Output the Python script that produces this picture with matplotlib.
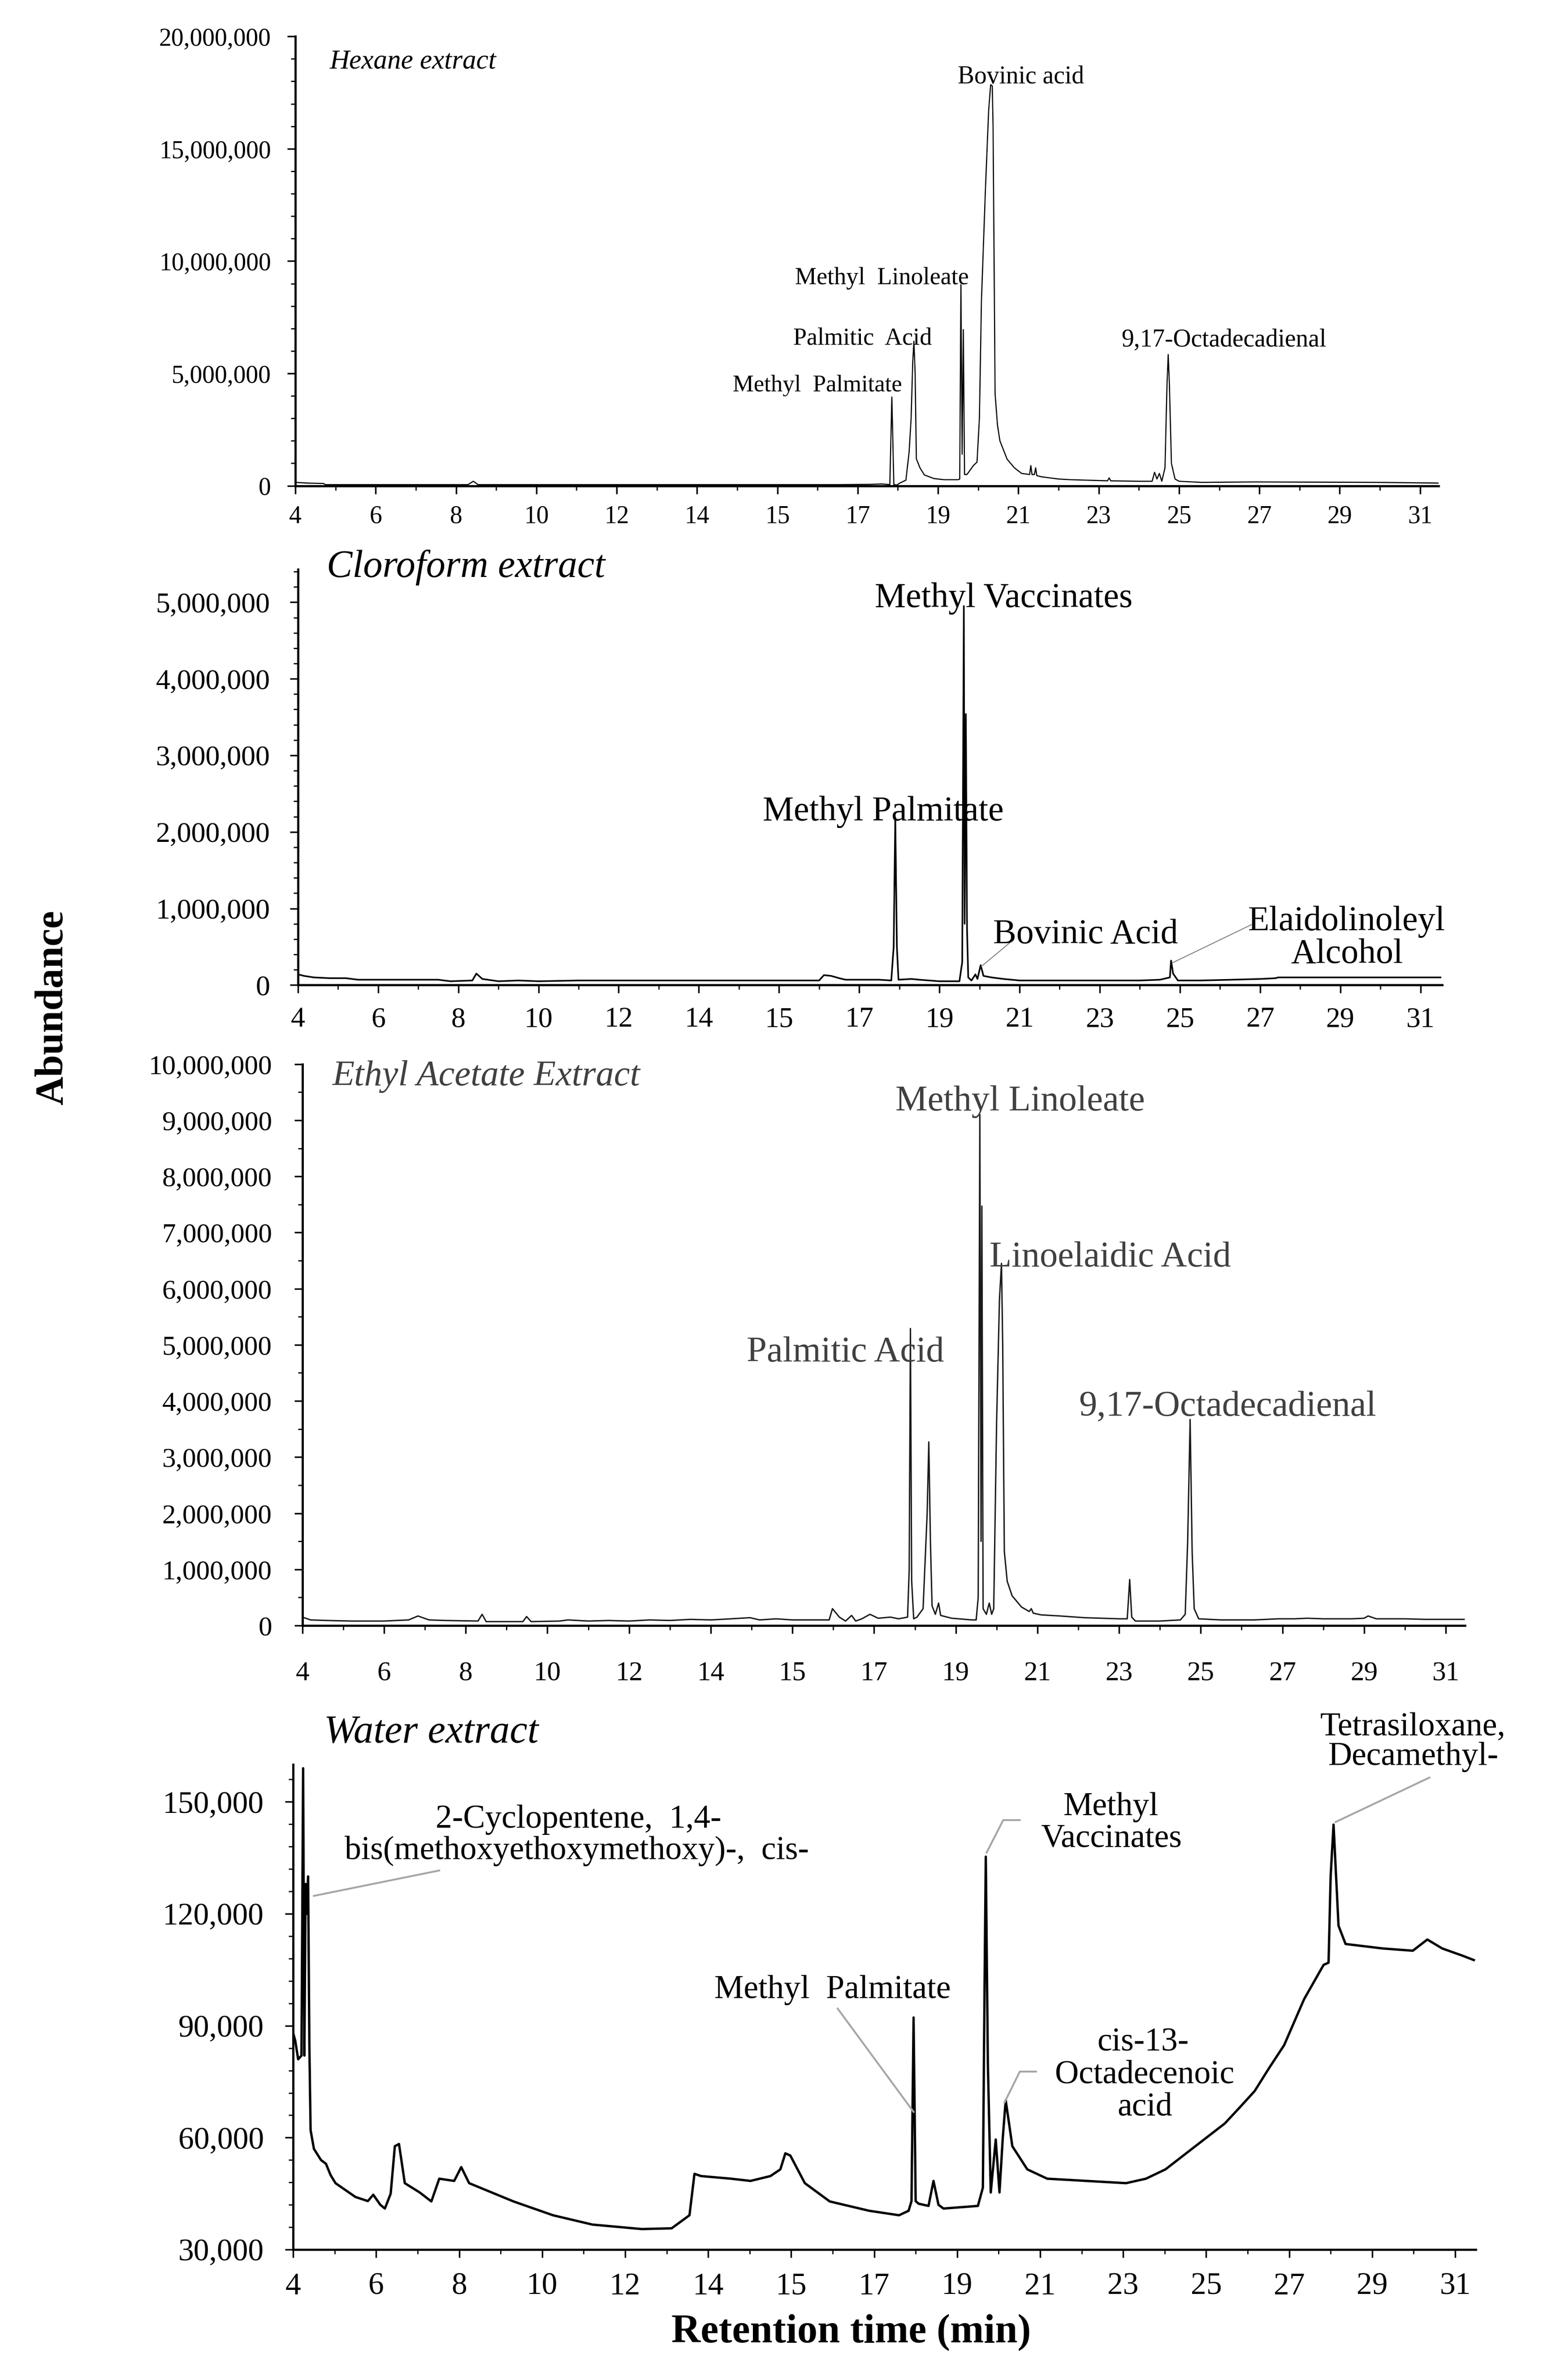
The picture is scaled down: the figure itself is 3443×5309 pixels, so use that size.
import numpy as np
import matplotlib
matplotlib.use("Agg")
import matplotlib.pyplot as plt
from matplotlib.ticker import FixedLocator, MultipleLocator, FuncFormatter

plt.rcParams['font.family'] = ['Liberation Serif', 'DejaVu Serif']

# x tick labels exactly as printed on the original (evenly spaced ticks)
tick_lab = ['4', '6', '8', '10', '12', '14', '15', '17', '19', '21', '23', '25', '27', '29', '31']

# Hexane extract, abundance in millions
hex_rt = [4.0, 4.3, 4.7, 4.75, 6.0, 8.3, 8.43, 8.55, 12.0, 15.0, 17.5, 18.3, 18.6, 18.8, 18.85,
          18.9, 18.97, 19.05, 19.2, 19.28, 19.33, 19.37, 19.40, 19.43, 19.46, 19.55, 19.66, 19.9,
          20.15, 20.50, 20.54, 20.57, 20.60, 20.63, 20.66, 20.72, 20.8, 20.88, 20.97, 21.03, 21.08,
          21.18, 21.26, 21.31, 21.35, 21.37, 21.40, 21.42, 21.48, 21.54, 21.72, 21.9, 22.08, 22.28,
          22.31, 22.34, 22.40, 22.43, 22.46, 22.57, 23.0, 23.3, 24.22, 24.26, 24.30, 25.0, 25.33,
          25.39, 25.45, 25.51, 25.57, 25.65, 25.70, 25.73, 25.76, 25.81, 25.9, 26.0, 26.56, 27.89,
          30.92, 32.45]
hex_ab = [0.15, 0.12, 0.10, 0.05, 0.05, 0.05, 0.2, 0.05, 0.05, 0.05, 0.05, 0.06, 0.08, 0.05, 3.95,
          0.05, 0.03, 0.12, 0.25, 1.5, 3.0, 5.5, 6.43, 5.0, 1.2, 0.8, 0.48, 0.32,
          0.27, 0.27, 0.3, 8.95, 1.4, 6.95, 0.5, 0.5, 0.7, 0.9, 1.05, 3.0, 8.2,
          13.2, 16.7, 17.85, 17.8, 16.0, 9.0, 4.1, 2.7, 2.0, 1.18, 0.8, 0.55, 0.5,
          0.9, 0.5, 0.5, 0.8, 0.45, 0.4, 0.3, 0.27, 0.22, 0.35, 0.22, 0.2, 0.2,
          0.6, 0.3, 0.55, 0.2, 0.8, 4.5, 5.84, 4.5, 1.0, 0.3, 0.2, 0.15, 0.17,
          0.15, 0.12]

# Cloroform extract, abundance in millions
clo_rt = [4.0, 4.15, 4.4, 4.8, 5.2, 5.5, 7.5, 7.8, 8.35, 8.45, 8.6, 9.0, 9.5, 10.0, 11.0, 12.0,
          13.0, 14.0, 15.0, 16.0, 17.0, 17.12, 17.3, 17.5, 17.66, 18.5, 18.8, 18.86, 18.90, 18.94,
          18.98, 19.3, 19.5, 20.0, 20.5, 20.57, 20.61, 20.63, 20.66, 20.69, 20.72, 20.8, 20.9,
          20.95, 21.03, 21.1, 21.3, 21.6, 22.0, 23.0, 24.0, 25.0, 25.5, 25.75, 25.78, 25.83, 25.95,
          26.5, 27.3, 28.0, 28.39, 28.45, 32.5]
clo_ab = [0.14, 0.12, 0.10, 0.09, 0.09, 0.07, 0.07, 0.05, 0.06, 0.15, 0.08, 0.05, 0.06, 0.05, 0.06, 0.06,
          0.06, 0.06, 0.06, 0.06, 0.06, 0.13, 0.12, 0.09, 0.07, 0.07, 0.06, 0.5, 2.19, 0.5,
          0.07, 0.08, 0.07, 0.05, 0.05, 0.3, 4.95, 0.8, 3.54, 0.73, 0.1, 0.06, 0.14,
          0.08, 0.26, 0.12, 0.10, 0.08, 0.06, 0.06, 0.06, 0.06, 0.07, 0.10, 0.32, 0.15, 0.06,
          0.06, 0.07, 0.08, 0.09, 0.10, 0.10]

# Ethyl acetate extract, abundance in millions
eth_rt = [4.0, 4.2, 4.6, 5.2, 6.0, 6.6, 6.83, 7.1, 7.5, 8.3, 8.40, 8.5, 9.4, 9.49, 9.6, 10.3, 10.5,
          11.0, 11.5, 12.0, 12.5, 13.0, 13.5, 14.0, 14.5, 14.96, 15.2, 15.6, 16.0, 16.5, 16.9, 16.98,
          17.15, 17.3, 17.45, 17.55, 17.7, 17.9, 18.1, 18.4, 18.6, 18.82, 18.86, 18.89, 18.92, 18.97,
          19.05, 19.2, 19.3, 19.34, 19.38, 19.42, 19.5, 19.58, 19.63, 19.9, 20.4, 20.5, 20.55, 20.59,
          20.62, 20.64, 20.67, 20.75, 20.82, 20.88, 20.93, 21.0, 21.07, 21.12, 21.15, 21.19, 21.26,
          21.38, 21.61, 21.8, 21.85, 21.9, 22.09, 22.56, 23.15, 24.0, 24.2, 24.26, 24.31, 24.4, 25.0,
          25.5, 25.62, 25.68, 25.74, 25.79, 25.84, 25.95, 26.5, 27.3, 27.9, 28.3, 28.6, 29.0, 29.7,
          30.0, 30.1, 30.3, 31.0, 31.5, 32.45]
eth_ab = [0.15, 0.10, 0.09, 0.08, 0.08, 0.10, 0.17, 0.10, 0.09, 0.08, 0.20, 0.07, 0.07, 0.16, 0.07, 0.08, 0.10,
          0.08, 0.09, 0.08, 0.10, 0.09, 0.11, 0.10, 0.12, 0.14, 0.10, 0.12, 0.10, 0.10, 0.10, 0.30,
          0.15, 0.08, 0.18, 0.08, 0.12, 0.20, 0.13, 0.15, 0.12, 0.15, 1.0, 5.29, 0.8, 0.12,
          0.15, 0.30, 2.0, 3.27, 1.5, 0.35, 0.20, 0.40, 0.18, 0.13, 0.10, 0.10, 0.5, 9.1,
          1.5, 7.47, 0.3, 0.2, 0.4, 0.2, 0.3, 3.6, 5.8, 6.45, 5.0, 1.32, 0.79,
          0.53, 0.33, 0.25, 0.30, 0.22, 0.19, 0.17, 0.14, 0.12, 0.12, 0.82, 0.15, 0.08, 0.08,
          0.10, 0.20, 1.5, 3.67, 1.3, 0.3, 0.12, 0.10, 0.10, 0.12, 0.12, 0.13, 0.12, 0.12,
          0.13, 0.17, 0.12, 0.12, 0.11, 0.11]

# Water extract, abundance in thousands
wat_rt = [4.0, 4.05, 4.12, 4.2, 4.24, 4.27, 4.30, 4.33, 4.36, 4.39, 4.42, 4.5, 4.67, 4.79, 4.9, 5.02,
          5.5, 5.8, 5.93, 6.1, 6.21, 6.35, 6.45, 6.55, 6.69, 7.05, 7.33, 7.52, 7.88, 8.05, 8.24, 9.31,
          10.26, 11.21, 12.4, 13.12, 13.55, 13.67, 13.83, 14.55, 15.02, 15.5, 15.74, 15.86, 15.98,
          16.33, 16.93, 17.88, 18.6, 18.83, 18.9, 18.95, 19.0, 19.07, 19.31, 19.43, 19.55, 19.67,
          20.5, 20.62, 20.66, 20.69, 20.74, 20.81, 20.93, 21.02, 21.1, 21.17, 21.33, 21.69, 22.17,
          23.12, 24.07, 24.55, 25.02, 25.74, 26.45, 26.81, 27.17, 27.52, 27.88, 28.36, 28.83, 28.95,
          29.0, 29.07, 29.19, 29.36, 30.26, 30.98, 31.33, 31.69, 32.17, 32.45]
wat_ab = [88, 86, 81, 82, 159, 82, 128, 120, 130, 85, 62, 57, 54, 53, 50, 47.8,
          44.1, 43, 44.7, 42, 41, 45, 57.7, 58.3, 47.8, 45.3, 42.9, 49, 48.4, 52.1, 47.8, 42.9,
          39.2, 36.7, 35.5, 35.7, 39.2, 50.3, 49.7, 49, 48.4, 49.7, 51.5, 55.8, 55.2,
          47.8, 42.9, 40.4, 39.2, 40.4, 43, 92.2, 43, 42.3, 41.7, 48.4, 42, 41,
          41.7, 46.6, 100, 135.3, 80, 45.3, 59.5, 45.3, 60, 70, 57.7, 51.5, 49,
          48.4, 47.8, 49, 51.5, 57.7, 63.8, 68.1, 72.5, 78.7, 84.8, 97.1, 106.3, 106.9,
          130, 143.9, 116.8, 111.9, 110.7, 110.1, 113.1, 110.7, 108.8, 107.6]

fig = plt.figure(figsize=(34.43, 53.09), dpi=100)

ax1 = fig.add_axes([0.1914, 0.7959, 0.7409, 0.1888])
ax2 = fig.add_axes([0.1931, 0.5861, 0.7415, 0.1747])
ax3 = fig.add_axes([0.1960, 0.3170, 0.7534, 0.2359])
ax4 = fig.add_axes([0.1900, 0.0548, 0.7665, 0.2038])


def style(ax, xmax, ylim, ymaj, ymin, fs, xpad, ypad):
    ax.set_xlim(4, xmax)
    ax.set_ylim(*ylim)
    for s in ['top', 'right']:
        ax.spines[s].set_visible(False)
    ax.spines['left'].set_linewidth(3.5)
    ax.spines['bottom'].set_linewidth(3.5)
    ax.xaxis.set_major_locator(FixedLocator(np.arange(4, 33, 2)))
    ax.set_xticklabels(tick_lab)
    ax.xaxis.set_minor_locator(MultipleLocator(1))
    ax.yaxis.set_major_locator(MultipleLocator(ymaj))
    ax.yaxis.set_minor_locator(MultipleLocator(ymin))
    ax.yaxis.set_major_formatter(FuncFormatter(lambda v, p: f'{v:,.0f}'))
    ax.tick_params(which='major', direction='out', length=13, width=2.5, labelsize=fs)
    ax.tick_params(which='minor', direction='out', length=7, width=2)
    ax.tick_params(axis='x', which='major', pad=xpad)
    ax.tick_params(axis='y', which='major', pad=ypad)


style(ax1, 32.46, (0, 20e6), 5e6, 1e6, 40, 18, 26)
style(ax2, 32.54, (0, 5.43e6), 1e6, 2e5, 46, 22, 32)
style(ax3, 32.47, (0, 10e6), 1e6, 5e5, 44, 44, 36)
style(ax4, 32.5, (30000, 160000), 30000, 6000, 50, 24, 34)

# traces
ax1.plot(hex_rt, np.array(hex_ab) * 1e6, color='black', lw=1.8)
ax2.plot(clo_rt, np.array(clo_ab) * 1e6, color='black', lw=2.6)
ax3.plot(eth_rt, np.array(eth_ab) * 1e6, color='#1a1a1a', lw=2.2)
ax4.plot(wat_rt, np.array(wat_ab) * 1e3, color='black', lw=3.8)

# Hexane labels
ax1.text(4.86, 18.88e6, 'Hexane extract', style='italic', fontsize=44, ha='left', va='center')
ax1.text(22.06, 18.19e6, 'Bovinic acid', fontsize=40, ha='center', va='center')
ax1.text(18.60, 9.23e6, 'Methyl  Linoleate', fontsize=39, ha='center', va='center')
ax1.text(18.12, 6.53e6, 'Palmitic  Acid', fontsize=39, ha='center', va='center')
ax1.text(17.0, 4.47e6, 'Methyl  Palmitate', fontsize=38, ha='center', va='center')
ax1.text(27.12, 6.50e6, '9,17-Octadecadienal', fontsize=40, ha='center', va='center')

# Cloroform labels
ax2.text(4.72, 5.45e6, 'Cloroform extract', style='italic', fontsize=62, ha='left', va='center')
ax2.text(21.60, 5.05e6, 'Methyl Vaccinates', fontsize=56, ha='center', va='center')
ax2.text(18.60, 2.26e6, 'Methyl Palmitate', fontsize=56, ha='center', va='center')
ax2.text(23.65, 0.656e6, 'Bovinic Acid', fontsize=56, ha='center', va='center')
ax2.text(30.16, 0.824e6, 'Elaidolinoleyl', fontsize=56, ha='center', va='center')
ax2.text(30.17, 0.40e6, 'Alcohol', fontsize=56, ha='center', va='center')
ax2.plot([21.78, 21.05], [0.563e6, 0.245e6], color='#808080', lw=1.5)
ax2.plot([27.78, 25.81], [0.788e6, 0.29e6], color='#808080', lw=1.5)

# Ethyl acetate labels
tc = '#404040'
ax3.text(4.74, 9.78e6, 'Ethyl Acetate Extract', style='italic', fontsize=58, ha='left', va='center', color=tc)
ax3.text(21.58, 9.33e6, 'Methyl Linoleate', fontsize=58, ha='center', va='center', color=tc)
ax3.text(23.79, 6.55e6, 'Linoelaidic Acid', fontsize=58, ha='center', va='center', color=tc)
ax3.text(17.30, 4.86e6, 'Palmitic Acid', fontsize=58, ha='center', va='center', color=tc)
ax3.text(26.66, 3.90e6, '9,17-Octadecadienal', fontsize=58, ha='center', va='center', color=tc)

# Water labels
lc = '#a6a6a6'
ax4.text(4.74, 168.6e3, 'Water extract', style='italic', fontsize=64, ha='left', va='center')
ax4.text(10.88, 145.2e3, '2-Cyclopentene,  1,4-', fontsize=53, ha='center', va='center')
ax4.text(10.83, 136.8e3, 'bis(methoxyethoxymethoxy)-,  cis-', fontsize=53, ha='center', va='center')
ax4.plot([7.52, 4.5], [131.6e3, 124.8e3], color=lc, lw=3)
ax4.text(17.0, 99.6e3, 'Methyl  Palmitate', fontsize=53, ha='center', va='center')
ax4.plot([17.12, 18.95], [94.6e3, 66.9e3], color=lc, lw=3)
ax4.text(23.71, 148.6e3, 'Methyl', fontsize=53, ha='center', va='center')
ax4.text(23.71, 140.0e3, 'Vaccinates', fontsize=53, ha='center', va='center')
ax4.plot([21.51, 21.11, 20.71], [145.1e3, 145.1e3, 136.4e3], color=lc, lw=3)
ax4.text(24.48, 85.4e3, 'cis-13-', fontsize=53, ha='center', va='center')
ax4.text(24.52, 76.8e3, 'Octadecenoic', fontsize=53, ha='center', va='center')
ax4.text(24.52, 68.1e3, 'acid', fontsize=53, ha='center', va='center')
ax4.plot([21.9, 21.51, 21.14], [77.7e3, 77.7e3, 69.4e3], color=lc, lw=3)
ax4.text(30.98, 170.0e3, 'Tetrasiloxane,', fontsize=53, ha='center', va='center')
ax4.text(31.0, 162.0e3, 'Decamethyl-', fontsize=53, ha='center', va='center')
ax4.plot([31.38, 29.12], [156.5e3, 144.6e3], color=lc, lw=3)

fig.text(0.0343, 0.5766, 'Abundance', rotation=90, fontsize=64, fontweight='bold', ha='center', va='center')
fig.text(0.5516, 0.0200, 'Retention time (min)', fontsize=65, fontweight='bold', ha='center', va='center')

fig.savefig('out.png', dpi=100)
